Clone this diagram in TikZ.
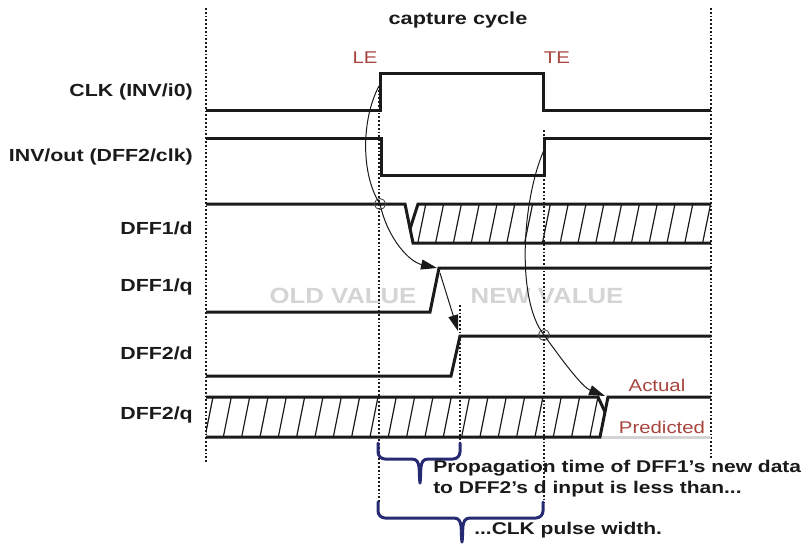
\documentclass[tikz,border=0pt]{standalone}
\usepackage{fontspec}
\setmainfont{Liberation Sans}
\usetikzlibrary{arrows.meta}
\definecolor{navy}{HTML}{262A72}
\definecolor{rust}{HTML}{A8463E}
\definecolor{ghost}{HTML}{D4D4D4}
\definecolor{ink}{HTML}{1A1A1A}
\begin{document}
\begin{tikzpicture}[x=1pt,y=-1pt,
  sig/.style={line width=3pt, line join=miter, ink},
  gridline/.style={line width=1.5pt, dash pattern=on 1.8pt off 2pt, ink},
  hatch/.style={line width=1.2pt, ink},
  arr/.style={line width=1pt, ink, -{Triangle[length=16pt,width=10pt]}},
  bracestyle/.style={line width=3pt, navy, line cap=round, line join=round},
  lbl/.style={font=\fontsize{17.5}{20}\selectfont\bfseries, text=ink, anchor=east, xscale=1.22, inner sep=0pt},
  note/.style={font=\fontsize{17}{20}\selectfont\bfseries, text=ink, anchor=west, xscale=1.235, inner sep=0pt},
  redtxt/.style={font=\fontsize{17}{20}\selectfont, text=rust, xscale=1.2, inner sep=0pt},
  bigghost/.style={font=\fontsize{22}{24}\selectfont\bfseries, text=ghost, xscale=1.17, inner sep=0pt},
  ring/.style={circle, draw=ink!80, line width=0.9pt, inner sep=0pt, minimum size=11pt}
]
\useasboundingbox (0,0) rectangle (804,544);

% ghost texts
\node[bigghost] (old) at (343,296) {OLD VALUE};
\node[bigghost] (new) at (547,296) {NEW VALUE};

% title and markers
\node[font=\fontsize{17.5}{20}\selectfont\bfseries, text=ink, xscale=1.24, inner sep=0pt] (title) at (458,20) {capture cycle};
\node[redtxt] (le) at (365,58) {LE};
\node[redtxt] (te) at (557,58) {TE};

% signal labels
\node[lbl] (lclk) at (193,92) {CLK (INV/i0)};
\node[lbl] (linv) at (193,157) {INV/out (DFF2/clk)};
\node[lbl] (ld1) at (193,228) {DFF1/d};
\node[lbl] (lq1) at (193,287) {DFF1/q};
\node[lbl] (ld2) at (193,353) {DFF2/d};
\node[lbl] (lq2) at (193,415) {DFF2/q};

% vertical dotted guides
\draw[gridline] (206,8) -- (206,463);
\draw[gridline] (711,8) -- (711,460);
\draw[gridline] (379,86) -- (379,503);
\draw[gridline] (544,130) -- (544,503);
\draw[gridline] (460,305) -- (460,445);

% CLK
\draw[sig] (206,110) -- (380,110) -- (380,73) -- (543,73) -- (543,110) -- (711,110);
% INV/out
\draw[sig] (206,138) -- (381,138) -- (381,175) -- (544,175) -- (544,138) -- (711,138);

% DFF1/d
\begin{scope}
  \clip (418,204) -- (711,204) -- (711,243) -- (413,243) -- (410,229) -- cycle;
  \foreach \i in {0,...,17} {
    \draw[hatch] (400+\i*17.8,243) -- (408+\i*17.8,204);
  }
\end{scope}
\draw[sig] (206,204) -- (405,204) -- (413,243) -- (711,243);
\draw[sig] (711,204) -- (418,204) -- (410,229);

% DFF1/q
\draw[sig] (206,312) -- (430,312) -- (439,268) -- (711,268);
% DFF2/d
\draw[sig] (206,376) -- (451,376) -- (460,336) -- (711,336);

% DFF2/q
\begin{scope}
  \clip (206,397) -- (598,397) -- (605,412) -- (600,437) -- (206,437) -- cycle;
  \foreach \i in {-1,...,22} {
    \draw[hatch] (205+\i*18.33,437) -- (213+\i*18.33,397);
  }
\end{scope}
\draw[line width=3pt, ghost] (601,437) -- (711,437);
\draw[sig] (206,437) -- (600,437) -- (605,412) -- (608,397) -- (711,397);
\draw[sig] (206,397) -- (598,397) -- (605,412);

\node[redtxt] (actual) at (657,385) {Actual};
\node[redtxt] (pred) at (662,427) {Predicted};

% causal arrows
\node[ring] (c1) at (380,204) {};
\node[ring] (c2) at (544,335) {};
\coordinate (leedge) at (379,86);
\coordinate (q1rise) at (437,268);
\coordinate (q1edge) at (440,273);
\coordinate (d2rise) at (458,331);
\coordinate (teedge) at (544,150);
\coordinate (q2edge) at (605,396);
\draw[arr] (leedge) .. controls (361,120) and (361,175) .. (c1.center) .. controls (388,240) and (410,262) .. (q1rise);
\draw[arr] (q1edge) -- (d2rise);
\draw[arr] (teedge) .. controls (522,200) and (516,300) .. (c2.center) .. controls (562,360) and (582,387) .. (q2edge);

% braces
\draw[bracestyle] (378,443) -- (378,452) to[out=-90,in=180] (385,459) -- (412,459) to[out=0,in=100] (420,483) to[out=80,in=180] (428,459) -- (453,459) to[out=0,in=-90] (460,452) -- (460,443);
\draw[bracestyle] (378,502) -- (378,511) to[out=-90,in=180] (385,518) -- (454,518) to[out=0,in=100] (462,542) to[out=80,in=180] (470,518) -- (536,518) to[out=0,in=-90] (543,511) -- (543,502);

\node[note] (n1) at (433,468) {Propagation time of DFF1's new data};
\node[note] (n2) at (433,489) {to DFF2's d input is less than...};
\node[note] (n3) at (474,530) {...CLK pulse width.};
\end{tikzpicture}
\end{document}
